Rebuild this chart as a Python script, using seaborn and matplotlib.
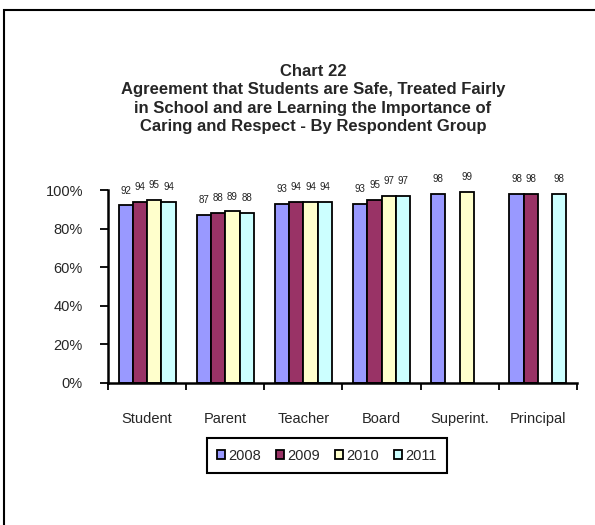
import matplotlib
matplotlib.use("Agg")

import numpy as np
import pandas as pd
import matplotlib.pyplot as plt
import seaborn as sns
from matplotlib.ticker import PercentFormatter, FixedLocator
from matplotlib.patches import Rectangle

# data (percent agreeing)
groups = ["Student", "Parent", "Teacher", "Board", "Superint.", "Principal"]
years = ["2008", "2009", "2010", "2011"]
vals_2008 = [92, 87, 93, 93, 98, 98]
vals_2009 = [94, 88, 94, 95, np.nan, 98]
vals_2010 = [95, 89, 94, 97, 99, np.nan]
vals_2011 = [94, 88, 94, 97, np.nan, 98]
year_colors = ["#9999FF", "#993366", "#FFFFCC", "#CCFFFF"]

rows = []
for yr, vals in zip(years, [vals_2008, vals_2009, vals_2010, vals_2011]):
    for g, v in zip(groups, vals):
        rows.append({"group": g, "year": yr, "value": v})
df = pd.DataFrame(rows)

sns.set_style("white")
plt.rcParams["font.family"] = ["Liberation Sans", "DejaVu Sans"]

fig = plt.figure(figsize=(5.95, 5.25), dpi=100)
ax = fig.add_axes([108 / 595, 1 - 383 / 525, 469 / 595, 193 / 525])

sns.barplot(data=df, x="group", y="value", hue="year", order=groups,
            hue_order=years, palette=year_colors, width=0.73,
            edgecolor="black", linewidth=1.3, saturation=1, ax=ax)

for c in ax.containers:
    labels = ["" if not np.isfinite(h) else f"{h:.0f}" for h in c.datavalues]
    ax.bar_label(c, labels=labels, padding=7, fontsize=7, color="#222222")

ax.set_ylim(0, 100)
ax.set_xlim(-0.5, len(groups) - 0.5)
ax.set_yticks([0, 20, 40, 60, 80, 100])
ax.yaxis.set_major_formatter(PercentFormatter(100, decimals=0))
ax.set_xlabel("")
ax.set_ylabel("")

# category ticks sit between the groups, labels centred under groups
ax.xaxis.set_minor_locator(FixedLocator(np.arange(-0.5, len(groups), 1.0)))
ax.tick_params(axis="x", which="major", length=0, pad=21, labelsize=10.5)
ax.tick_params(axis="x", which="minor", length=5, width=1.3, direction="out",
               bottom=True, color="black")
ax.tick_params(axis="y", length=6, width=1.3, direction="out", left=True,
               labelsize=10.5, pad=12, color="black")

for side in ["top", "right"]:
    ax.spines[side].set_visible(False)
for side in ["left", "bottom"]:
    ax.spines[side].set_color("black")
    ax.spines[side].set_linewidth(1.8)

handles, labels = ax.get_legend_handles_labels()
ax.legend(handles, labels, ncol=4, loc="center",
          bbox_to_anchor=(327 / 595, 1 - 455.5 / 525),
          bbox_transform=fig.transFigure, fontsize=10.5, frameon=True,
          fancybox=False, edgecolor="black", framealpha=1,
          handlelength=0.55, handleheight=0.55, handletextpad=0.25,
          columnspacing=1.0, borderpad=0.7)
ax.get_legend().get_frame().set_linewidth(1.5)

fig.text(313 / 595, 1 - 99 / 525,
         "Chart 22\nAgreement that Students are Safe, Treated Fairly\n"
         "in School and are Learning the Importance of\n"
         "Caring and Respect - By Respondent Group",
         ha="center", va="center", fontsize=12, fontweight="bold",
         linespacing=1.3)

# outer chart border (only left and top edges are in view)
fig.patches.append(Rectangle((4 / 595, -0.1), 1.2, 1 - 10 / 525 + 0.1,
                             transform=fig.transFigure, fill=False,
                             edgecolor="black", linewidth=1.5))

fig.savefig("out.png", dpi=100)
